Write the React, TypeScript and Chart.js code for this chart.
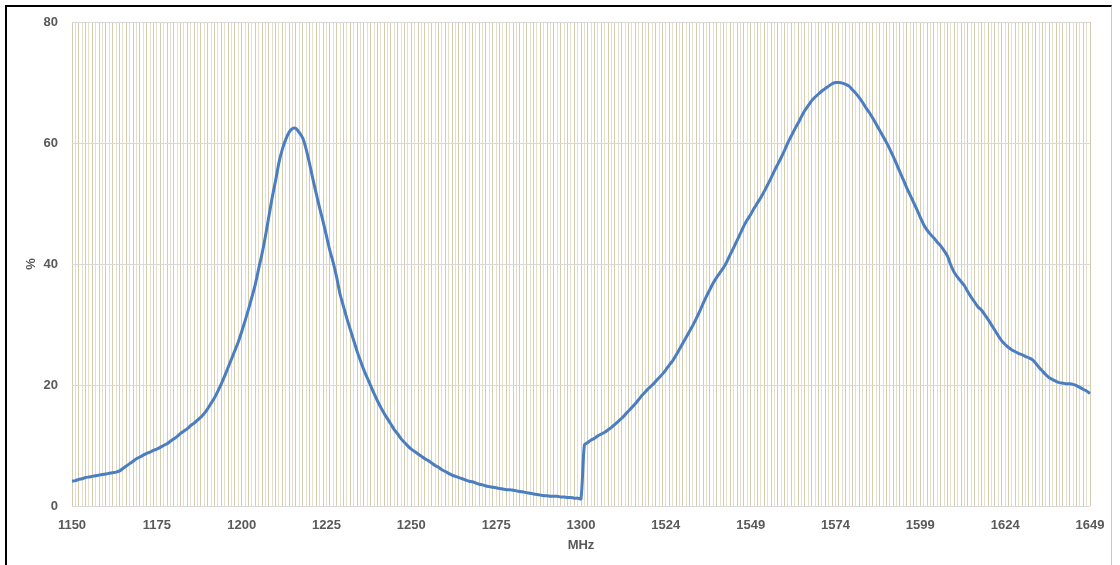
import React, { useEffect, useRef } from "react";
import { Chart, registerables } from "chart.js";

Chart.register(...registerables);

// Categories: 1150..1300 then 1500..1649 MHz
const lowBandMHz: number[] = Array.from({ length: 151 }, (_, k) => 1150 + k);
const highBandMHz: number[] = Array.from({ length: 150 }, (_, k) => 1500 + k);
const categories: string[] = [...lowBandMHz, ...highBandMHz].map(String);

// Efficiency (%)
const lowBandValues: number[] = [
  4.1, 4.2, 4.4, 4.5, 4.7, 4.8, 4.9, 5.0, 5.1, 5.2,
  5.3, 5.4, 5.5, 5.6, 5.8, 6.2, 6.6, 7.0, 7.4, 7.8,
  8.1, 8.4, 8.7, 8.9, 9.2, 9.4, 9.7, 10.0, 10.3, 10.7,
  11.1, 11.5, 12.0, 12.4, 12.8, 13.3, 13.7, 14.2, 14.7, 15.3,
  16.1, 17.0, 17.9, 19.0, 20.2, 21.5, 22.9, 24.3, 25.7, 27.1,
  28.8, 30.6, 32.5, 34.5, 36.6, 39.2, 41.7, 44.6, 47.8, 51.0,
  53.8, 56.8, 59.0, 60.6, 61.8, 62.4, 62.4, 61.7, 60.8, 59.0,
  56.6, 54.0, 51.6, 49.2, 47.0, 44.6, 42.2, 40.2, 37.8, 35.0,
  33.0, 31.0, 29.2, 27.4, 25.6, 24.0, 22.5, 21.2, 19.9, 18.6,
  17.4, 16.3, 15.3, 14.4, 13.5, 12.6, 11.9, 11.1, 10.5, 9.9,
  9.4, 9.0, 8.6, 8.2, 7.8, 7.5, 7.1, 6.7, 6.4, 6.0,
  5.7, 5.4, 5.1, 4.9, 4.7, 4.5, 4.3, 4.1, 4.0, 3.8,
  3.6, 3.5, 3.3, 3.2, 3.1, 3.0, 2.9, 2.8, 2.7, 2.7,
  2.6, 2.5, 2.4, 2.3, 2.2, 2.1, 2.0, 1.9, 1.8, 1.7,
  1.7, 1.6, 1.6, 1.6, 1.5, 1.5, 1.4, 1.4, 1.3, 1.3,
  1.2,
];

const highBandValues: number[] = [
  10.1, 10.5, 10.9, 11.2, 11.6, 11.9, 12.2, 12.6, 13.0,
  13.5, 14.0, 14.5, 15.1, 15.7, 16.3, 16.9, 17.6, 18.3, 18.9,
  19.5, 20.0, 20.6, 21.2, 21.8, 22.5, 23.3, 24.0, 24.9, 25.9,
  26.9, 27.9, 28.9, 29.9, 31.0, 32.2, 33.5, 34.7, 35.8, 36.9,
  37.8, 38.6, 39.4, 40.4, 41.6, 42.7, 43.9, 45.1, 46.3, 47.3,
  48.2, 49.2, 50.1, 51.0, 52.0, 53.1, 54.2, 55.4, 56.5, 57.6,
  58.8, 60.1, 61.2, 62.3, 63.3, 64.4, 65.4, 66.2, 67.0, 67.6,
  68.1, 68.6, 69.0, 69.4, 69.8, 70.0, 70.0, 69.9, 69.7, 69.4,
  68.8, 68.2, 67.5, 66.7, 65.8, 65.0, 64.1, 63.1, 62.1, 61.1,
  60.1, 59.0, 57.8, 56.5, 55.2, 53.9, 52.6, 51.4, 50.2, 49.0,
  47.7, 46.5, 45.6, 44.9, 44.3, 43.6, 43.0, 42.2, 41.3, 39.8,
  38.6, 37.8, 37.1, 36.4, 35.4, 34.5, 33.7, 32.9, 32.4, 31.6,
  30.8, 29.9, 29.0, 28.1, 27.3, 26.7, 26.2, 25.8, 25.5, 25.2,
  25.0, 24.7, 24.5, 24.2, 23.6, 22.9, 22.3, 21.7, 21.2, 20.9,
  20.6, 20.4, 20.3, 20.2, 20.2, 20.1, 19.9, 19.6, 19.3, 19.0,
  18.6,
];

const values: number[] = [...lowBandValues, ...highBandValues];

const yTicks: number[] = [0, 20, 40, 60, 80];
const labelEvery = 25;
const xTitle = "MHz";
const yTitle = "%";

const textColor = "#595959";
const fontFamily = "'Liberation Sans', Arial, sans-serif";

export default function App() {
  const canvasRef = useRef<HTMLCanvasElement | null>(null);

  useEffect(() => {
    const canvas = canvasRef.current;
    if (!canvas) return;
    const chart = new Chart(canvas, {
      type: "line",
      data: {
        labels: categories,
        datasets: [
          {
            data: values,
            borderColor: "#4a7ec0",
            borderWidth: 3,
            pointRadius: 0,
            tension: 0.25,
            fill: false,
          },
        ],
      },
      options: {
        animation: false,
        responsive: false,
        events: [],
        layout: { padding: { left: 0, right: 30, top: 22, bottom: 0 } },
        plugins: {
          legend: { display: false },
          tooltip: { enabled: false },
        },
        scales: {
          x: {
            type: "category",
            offset: false,
            border: { display: false },
            grid: {
              display: true,
              drawTicks: false,
              color: (ctx: any) => (ctx.index % 2 === 0 ? "#d3ccae" : "#e3dfcb"),
              lineWidth: 1,
            },
            ticks: {
              autoSkip: false,
              maxRotation: 0,
              minRotation: 0,
              padding: 12,
              color: textColor,
              font: { family: fontFamily, size: 13, weight: "bold" },
              callback: (_v: any, i: number) => (i % labelEvery === 0 ? categories[i] : ""),
            },
            title: {
              display: true,
              text: xTitle,
              color: textColor,
              font: { family: fontFamily, size: 13, weight: "bold" },
              padding: { top: 0, bottom: 12 },
            },
            afterFit: (scale: any) => {
              scale.height = 59;
            },
          },
          y: {
            min: 0,
            max: 80,
            border: { display: false },
            grid: {
              drawTicks: false,
              color: "#d9d9d9",
              lineWidth: 1,
            },
            afterBuildTicks: (scale: any) => {
              scale.ticks = yTicks.map((v) => ({ value: v }));
            },
            ticks: {
              padding: 14,
              color: textColor,
              font: { family: fontFamily, size: 13, weight: "bold" },
            },
            title: {
              display: true,
              text: yTitle,
              color: textColor,
              font: { family: fontFamily, size: 13, weight: "bold" },
              padding: { top: 24, bottom: 0 },
            },
            afterFit: (scale: any) => {
              scale.width = 72;
            },
          },
        },
      } as any,
    });
    return () => chart.destroy();
  }, []);

  return (
    <>
      <div
        style={{
          position: "fixed",
          left: 5,
          top: 5,
          width: 1107,
          height: 580,
          borderLeft: "2px solid #000",
          borderTop: "2px solid #000",
          borderRight: "1px solid #c8c8c8",
          boxSizing: "border-box",
          background: "#fff",
        }}
      />
      <canvas
        ref={canvasRef}
        width={1120}
        height={565}
        style={{ position: "fixed", left: 0, top: 0, width: 1120, height: 565 }}
      />
    </>
  );
}
